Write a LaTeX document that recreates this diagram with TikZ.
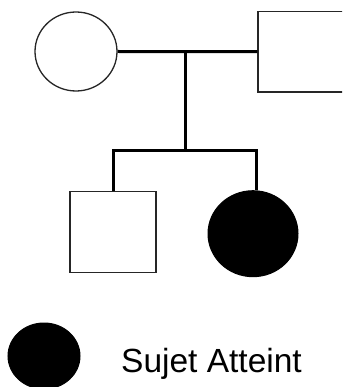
\documentclass[tikz,border=0pt]{standalone}
\usepackage{fontspec}
\usetikzlibrary{shapes.geometric}
\setmainfont{Liberation Sans}
\begin{document}
\begin{tikzpicture}[x=1pt,y=-1pt,
  outline/.style={draw=black!85,line width=1.3pt,fill=white},
  affected/.style={draw=black,line width=1pt,fill=black},
  link/.style={draw=black,line width=3pt}]
\useasboundingbox (0,0) rectangle (342,387);
\begin{scope}
\clip (0,0) rectangle (342,387);
% parents
\node[outline,ellipse,minimum width=82pt,minimum height=79pt,inner sep=0pt] (mother) at (76,51.5) {};
\node[outline,rectangle,minimum width=88pt,minimum height=80.5pt,inner sep=0pt] (father) at (302,51.75) {};
% children
\node[outline,rectangle,minimum width=86pt,minimum height=80.5pt,inner sep=0pt] (son) at (113,232) {};
\node[affected,ellipse,minimum width=90pt,minimum height=86pt,inner sep=0pt] (daughter) at (253,233.7) {};
\node[affected,ellipse,minimum width=72pt,minimum height=66pt,inner sep=0pt] (legend) at (44,356) {};
\end{scope}
\coordinate (mate) at (185.7,51.5);
\coordinate (sib) at (185.7,151);
\coordinate (sibL) at (113,151);
\coordinate (sibR) at (256.5,151);
\draw[link] (mother.east) -- (father.west);
\draw[link] (mate) -- (sib);
\draw[link,line cap=rect] (sibL) -- (sibR);
\draw[link] (sibL) -- (son.north);
\draw[link] (sibR) -- (sibR |- daughter.north);
\node[anchor=base west,inner sep=0pt,font=\fontsize{33.5pt}{36pt}\selectfont] (label) at (121,372.7) {Sujet Atteint};
\end{tikzpicture}
\end{document}
